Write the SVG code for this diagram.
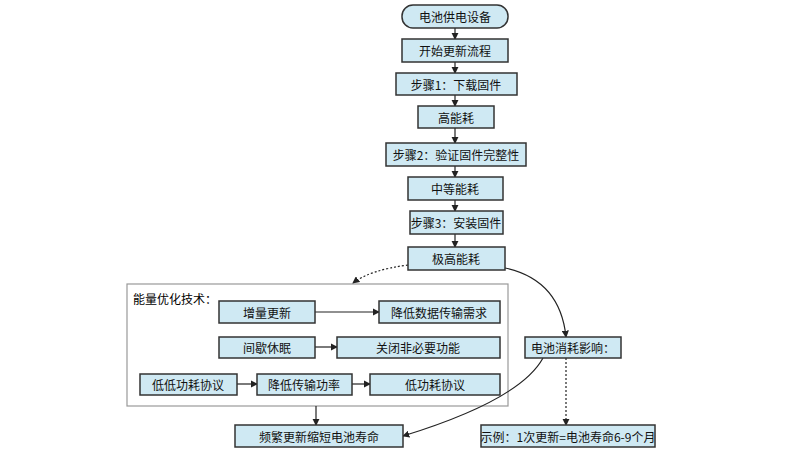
<svg xmlns="http://www.w3.org/2000/svg" width="800" height="466" viewBox="0 0 800 466">
<style>
.n rect{fill:#cfe9f3;stroke:#333;stroke-width:1.5}
.n text{font-family:"Noto Sans CJK SC","Liberation Sans",sans-serif;font-size:12px;fill:#111;text-anchor:middle;dominant-baseline:central}
.c path{fill:none;stroke:#222;stroke-width:1.2}
.d{stroke-dasharray:2,2}
</style>
<defs><marker id="a" viewBox="0 0 8 8" refX="7" refY="4" markerWidth="6" markerHeight="6" orient="auto"><path d="M0,0L8,4L0,8z" fill="#222"/></marker></defs>
<rect width="800" height="466" fill="#fff"/>
<g id="container"><rect x="127" y="284" width="381" height="122" fill="#fff" stroke="#999" stroke-width="1.2"/><text x="133" y="298" font-family="Noto Sans CJK SC,Liberation Sans,sans-serif" font-size="12" dominant-baseline="central">能量优化技术：</text></g>
<g class="c">
<path d="M455,28V39" marker-end="url(#a)"/>
<path d="M455,62V73" marker-end="url(#a)"/>
<path d="M455,95V106" marker-end="url(#a)"/>
<path d="M455,128V143" marker-end="url(#a)"/>
<path d="M455,166V177" marker-end="url(#a)"/>
<path d="M455,200V211" marker-end="url(#a)"/>
<path d="M455,234V247" marker-end="url(#a)"/>
<path class="d" d="M408,265Q370,270 353,283" marker-end="url(#a)"/>
<path d="M505,268Q560,280 566,337" marker-end="url(#a)"/>
<path d="M543,358Q520,400 403,436" marker-end="url(#a)"/>
<path class="d" d="M566,358V425" marker-end="url(#a)"/>
<path d="M316,406V425" marker-end="url(#a)"/>
<path d="M315,312H379" marker-end="url(#a)"/>
<path d="M315,347H337" marker-end="url(#a)"/>
<path d="M237,384H257" marker-end="url(#a)"/>
<path d="M352,384H370" marker-end="url(#a)"/>
</g>
<g id="n0" class="n"><rect x="402" y="5" width="106" height="23" rx="11"/><text x="455" y="16.5">电池供电设备</text></g>
<g id="n1" class="n"><rect x="402" y="39" width="106" height="23"/><text x="455" y="50.5">开始更新流程</text></g>
<g id="n2" class="n"><rect x="396" y="73" width="121" height="22"/><text x="456" y="84">步骤1：下载固件</text></g>
<g id="n3" class="n"><rect x="418" y="106" width="76" height="22"/><text x="456" y="117">高能耗</text></g>
<g id="n4" class="n"><rect x="386" y="143" width="140" height="23"/><text x="456" y="154.5">步骤2：验证固件完整性</text></g>
<g id="n5" class="n"><rect x="408" y="177" width="95" height="23"/><text x="455" y="188.5">中等能耗</text></g>
<g id="n6" class="n"><rect x="410" y="211" width="93" height="23"/><text x="456" y="222.5">步骤3：安装固件</text></g>
<g id="n7" class="n"><rect x="408" y="247" width="97" height="23"/><text x="456" y="258.5">极高能耗</text></g>
<g id="n8" class="n"><rect x="219" y="301" width="96" height="22"/><text x="267" y="312">增量更新</text></g>
<g id="n9" class="n"><rect x="379" y="301" width="121" height="22"/><text x="439" y="312">降低数据传输需求</text></g>
<g id="n10" class="n"><rect x="219" y="337" width="96" height="21"/><text x="267" y="347.5">间歇休眠</text></g>
<g id="n11" class="n"><rect x="337" y="337" width="163" height="21"/><text x="418" y="347.5">关闭非必要功能</text></g>
<g id="n12" class="n"><rect x="140" y="374" width="97" height="21"/><text x="188" y="384.5">低低功耗协议</text></g>
<g id="n13" class="n"><rect x="257" y="374" width="95" height="21"/><text x="304" y="384.5">降低传输功率</text></g>
<g id="n14" class="n"><rect x="370" y="374" width="130" height="21"/><text x="435" y="384.5">低功耗协议</text></g>
<g id="n15" class="n"><rect x="235" y="425" width="168" height="22"/><text x="319" y="436">频繁更新缩短电池寿命</text></g>
<g id="n16" class="n"><rect x="525" y="337" width="96" height="21"/><text x="573" y="347.5">电池消耗影响：</text></g>
<g id="n17" class="n"><rect x="481" y="425" width="174" height="22"/><text x="568" y="436">示例：1次更新=电池寿命6-9个月</text></g>
</svg>
